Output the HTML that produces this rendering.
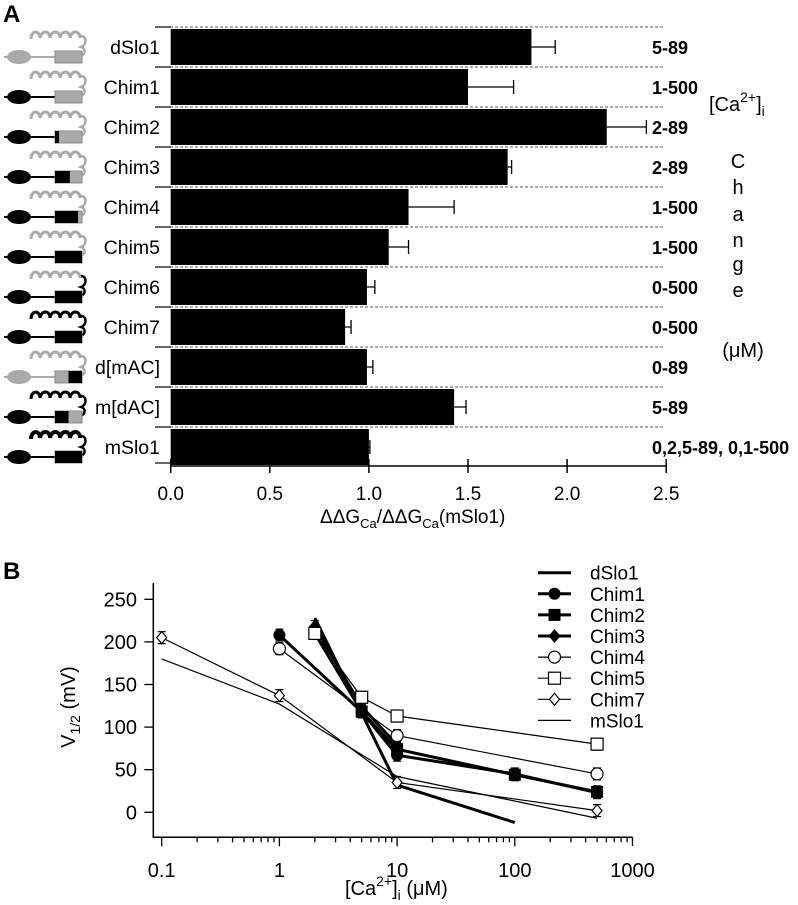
<!DOCTYPE html>
<html><head><meta charset="utf-8"><style>
body{margin:0;background:#fff;}
svg text{font-family:"Liberation Sans",sans-serif;}
</style></head><body>
<svg id="fig" width="798" height="900" xmlns="http://www.w3.org/2000/svg">
<text x="3" y="22" font-size="24" font-weight="bold">A</text>
<text x="3" y="579" font-size="24" font-weight="bold">B</text>
<g id="pa"></g>
<g id="pb"></g>
<g font-size="20">
<text x="709" y="111">[Ca<tspan dy="-9" font-size="14">2+</tspan><tspan dy="9">]</tspan><tspan dy="5" font-size="14">i</tspan></text>
<text x="738" y="168" text-anchor="middle">C</text>
<text x="738" y="194" text-anchor="middle">h</text>
<text x="738" y="221" text-anchor="middle">a</text>
<text x="738" y="247" text-anchor="middle">n</text>
<text x="738" y="271" text-anchor="middle">g</text>
<text x="738" y="297" text-anchor="middle">e</text>
<text x="743" y="357" text-anchor="middle">(μM)</text>
</g>
</svg>
<script>
const NS="http://www.w3.org/2000/svg";
function mk(p,t,a){const e=document.createElementNS(NS,t);for(const k in a)e.setAttribute(k,a[k]);p.appendChild(e);return e;}
// ---------- Panel A data ----------
const constructs=["dSlo1","Chim1","Chim2","Chim3","Chim4","Chim5","Chim6","Chim7","d[mAC]","m[dAC]","mSlo1"];
const ratios=[1.82,1.50,2.20,1.70,1.20,1.10,0.99,0.88,0.99,1.43,1.00];
const ratioErr=[0.12,0.23,0.20,0.02,0.23,0.10,0.04,0.03,0.03,0.06,0.005];
const caRanges=["5-89","1-500","2-89","2-89","1-500","1-500","0-500","0-500","0-89","5-89","0,2,5-89, 0,1-500"];
const xTicksA=[0,0.5,1,1.5,2,2.5];
const iconHelix=["g","g","g","g","g","g","gk","k","g","k","kk"];
const iconHead=["g","k","k","k","k","k","k","k","g","k","k"];
const iconBoxBlack=[0,0,0.15,0.55,0.85,1,1,1,0.5,0.5,1];
const iconBoxBlackLeft=[1,1,1,1,1,1,1,1,0,1,1];
const pa=document.getElementById('pa');
const x0=170.7,sx=198.2,top0=27,rowH=40,axisY=466;
const X=v=>x0+v*sx, RY=i=>top0+i*rowH;
constructs.forEach((c,i)=>{
  const y=RY(i);
  const dl=mk(pa,'line',{x1:170,x2:663,y1:y,y2:y,stroke:'#555','stroke-dasharray':'3,2','stroke-width':1});
  
  
  const tk=mk(pa,'line',{x1:155,x2:171,y1:y,y2:y,stroke:'#000','stroke-width':1.2});
  
  
  const b=mk(pa,'rect',{x:x0,y:y+2,width:X(ratios[i])-x0,height:rowH-4,fill:'#000'});
  
  
  const cy=y+rowH/2, xe=X(ratios[i]+ratioErr[i]);
  const eb=mk(pa,'path',{d:`M${X(ratios[i])},${cy}H${xe}M${xe},${cy-7}V${cy+7}`,stroke:'#000','stroke-width':1.3,fill:'none'});
  
  
  const t=mk(pa,'text',{x:160,y:cy+7,'text-anchor':'end','font-size':19.5});
  t.textContent=c;
  
  
  const r=mk(pa,'text',{x:652,y:cy+7,'font-size':18,'font-weight':'bold'});
  r.textContent=caRanges[i];
  
  
  const g=mk(pa,'g',{});
  
  
  const gray='#aaa',blk='#000';
  const hc=iconHelix[i]==='g'||iconHelix[i]==='gk'?gray:blk, hc2=iconHelix[i]==='g'?gray:blk;
  let d='M31,'+(y+12);
  for(let k=0;k<5;k++){const s0=31+k*10;d+=` C${s0},${y+3} ${s0+9},${y+3} ${s0+9},${y+11}`;}
  mk(g,'path',{d:d,stroke:hc,'stroke-width':iconHelix[i]==='kk'?4:3,fill:'none'});
  mk(g,'path',{d:`M81,${y+9} c6,0 6,9 0,11 c6,2 4,9 -2,9`,stroke:hc2,'stroke-width':2.5,fill:'none'});
  const hd=iconHead[i]==='g'?gray:blk;
  mk(g,'line',{x1:4,x2:56,y1:y+30,y2:y+30,stroke:hd,'stroke-width':2});
  mk(g,'ellipse',{cx:19,cy:y+30,rx:12,ry:7,fill:hd});
  const bx=55,bw=27,bb=iconBoxBlack[i];
  mk(g,'rect',{x:bx,y:y+24,width:bw,height:12,fill:gray,stroke:'#888'});
  if(iconBoxBlackLeft[i]) mk(g,'rect',{x:bx,y:y+24,width:bw*bb,height:12,fill:blk});
  else mk(g,'rect',{x:bx+bw*(1-bb),y:y+24,width:bw*bb,height:12,fill:blk});
});
mk(pa,'line',{x1:155,x2:171,y1:axisY-3,y2:axisY-3,stroke:'#000','stroke-width':1.2});
const ax=mk(pa,'line',{x1:x0,x2:X(2.5),y1:axisY,y2:axisY,stroke:'#000','stroke-width':1.5});


xTicksA.forEach(v=>{
  mk(pa,'line',{x1:X(v),x2:X(v),y1:axisY-7,y2:axisY+7,stroke:'#000','stroke-width':1.5});
  const t=mk(pa,'text',{x:X(v),y:500,'text-anchor':'middle','font-size':19});
  t.textContent=v.toFixed(1);
  
  
});
const xt=mk(pa,'text',{x:320,y:523,'font-size':19});
xt.innerHTML='ΔΔG<tspan dy="5" font-size="13">Ca</tspan><tspan dy="-5">/ΔΔG</tspan><tspan dy="5" font-size="13">Ca</tspan><tspan dy="-5">(mSlo1)</tspan>';



// ---------- Panel B data ----------
const seriesNames=["dSlo1","Chim1","Chim2","Chim3","Chim4","Chim5","Chim7","mSlo1"];
const dSlo1X=[2,10,100], dSlo1Y=[228,32,-12];
const chim1X=[1,5,10,100,500], chim1Y=[208,118,67,45,23];
const chim2X=[2,5,10,100,500], chim2Y=[210,118,74,44,24];
const chim3X=[2,5,10], chim3Y=[218,124,79];
const chim4X=[1,10,500], chim4Y=[192,90,45];
const chim5X=[2,5,10,500], chim5Y=[210,135,113,80];
const chim7X=[0.1,1,10,500], chim7Y=[205,137,35,2];
const mSlo1X=[0.1,1,10,500], mSlo1Y=[180,127,42,-7];
const errB=7;
const yTicksB=[0,50,100,150,200,250];
const xTicksB=[0.1,1,10,100,1000];
const pb=document.getElementById('pb');
const lx0=153.3,lx1=632.7,Lx=v=>161.7+(Math.log10(v)+1)*117.7, Vy=v=>812.3-v*0.852;
const ya=mk(pb,'path',{d:`M${lx0},583V837.3H${lx1}`,stroke:'#000','stroke-width':1.5,fill:'none'});


yTicksB.forEach(v=>{
  mk(pb,'line',{x1:lx0-9,x2:lx0,y1:Vy(v),y2:Vy(v),stroke:'#000','stroke-width':1.3});
  const t=mk(pb,'text',{x:137,y:Vy(v)+7,'text-anchor':'end','font-size':20});
  t.textContent=v;
  
  
});
for(let e=-1;e<3;e++)for(let m=1;m<10;m++){const v=m*Math.pow(10,e);
  mk(pb,'line',{x1:Lx(v),x2:Lx(v),y1:837.3,y2:837.3+(m===1?9:5),stroke:'#000','stroke-width':1.3});}
mk(pb,'line',{x1:Lx(1000),x2:Lx(1000),y1:837.3,y2:846,stroke:'#000','stroke-width':1.3});
xTicksB.forEach(v=>{
  const t=mk(pb,'text',{x:Lx(v),y:877,'text-anchor':'middle','font-size':20});
  t.textContent=v;
  
  
});
const xtb=mk(pb,'text',{x:345,y:895,'font-size':20});
xtb.innerHTML='[Ca<tspan dy="-9" font-size="14">2+</tspan><tspan dy="9">]</tspan><tspan dy="5" font-size="14">i</tspan><tspan dy="-5"> (μM)</tspan>';


const ytb=mk(pb,'text',{x:0,y:0,'text-anchor':'middle','font-size':20,transform:'translate(75,707) rotate(-90)'});
ytb.innerHTML='V<tspan dy="5" font-size="14">1/2</tspan><tspan dy="-5"> (mV)</tspan>';


function marker(g,type,x,y){
  if(type==='fc')mk(g,'circle',{cx:x,cy:y,r:6,fill:'#000'});
  if(type==='fs')mk(g,'rect',{x:x-6,y:y-6,width:12,height:12,fill:'#000'});
  if(type==='fd')mk(g,'path',{d:`M${x},${y-7}L${x+6},${y}L${x},${y+7}L${x-6},${y}Z`,fill:'#000'});
  if(type==='oc')mk(g,'circle',{cx:x,cy:y,r:6,fill:'#fff',stroke:'#000','stroke-width':1.2});
  if(type==='os')mk(g,'rect',{x:x-6,y:y-6,width:12,height:12,fill:'#fff',stroke:'#000','stroke-width':1.2});
  if(type==='od')mk(g,'path',{d:`M${x},${y-6}L${x+5},${y}L${x},${y+6}L${x-5},${y}Z`,fill:'#fff',stroke:'#000','stroke-width':1.2});
}
const allX=[dSlo1X,chim1X,chim2X,chim3X,chim4X,chim5X,chim7X,mSlo1X];
const allY=[dSlo1Y,chim1Y,chim2Y,chim3Y,chim4Y,chim5Y,chim7Y,mSlo1Y];
const mk2=['','fc','fs','fd','oc','os','od',''];
const widths=[3,3,3,3,1.2,1.2,1.2,1.2];
seriesNames.forEach((n,si)=>{
  const g=mk(pb,'g',{});
  
  
  const xs=allX[si],ys=allY[si];
  mk(g,'polyline',{points:xs.map((x,k)=>Lx(x)+','+Vy(ys[k])).join(' '),fill:'none',stroke:'#000','stroke-width':widths[si]});
  if(mk2[si]){xs.forEach((x,k)=>{
    mk(g,'path',{d:`M${Lx(x)},${Vy(ys[k]+errB)}V${Vy(ys[k]-errB)}M${Lx(x)-4},${Vy(ys[k]+errB)}h8M${Lx(x)-4},${Vy(ys[k]-errB)}h8`,stroke:'#000','stroke-width':1.2});
    marker(g,mk2[si],Lx(x),Vy(ys[k]));
  });}
  const ly=572.7+si*21.1;
  const lg=mk(pb,'g',{});
  
  
  mk(lg,'line',{x1:538,x2:571,y1:ly,y2:ly,stroke:'#000','stroke-width':widths[si]});
  if(mk2[si])marker(lg,mk2[si],554.5,ly);
  const t=mk(lg,'text',{x:590,y:ly+7,'font-size':19});
  t.textContent=n;
});
</script>
</body></html>
